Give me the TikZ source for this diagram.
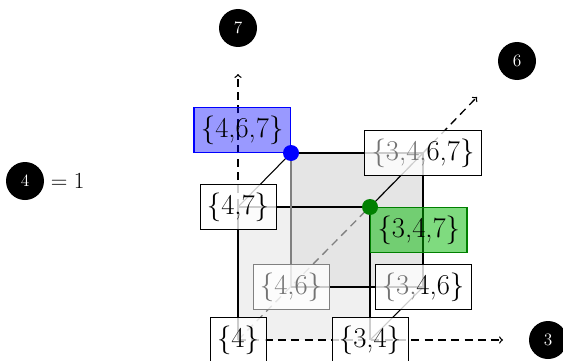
\documentclass[tikz,border=0pt]{standalone}
\usetikzlibrary{positioning}
\begin{document}
\begin{tikzpicture}[x=0.75pt,y=0.75pt,yscale=-1,xscale=1,
  vbox/.style={draw,fill=white,fill opacity=0.8,text opacity=1,inner xsep=5.2pt,inner ysep=6pt,font=\fontsize{21.5}{24}\selectfont},
  axis/.style={dash pattern=on 6pt off 4pt,line width=1pt},
  edge/.style={line width=0.8pt},
  num/.style={circle,fill=black,text=white,minimum size=28.5pt,inner sep=0pt,font=\fontsize{13}{15}\selectfont},
  hid/.style={black!55}]
\useasboundingbox (0,0) rectangle (563,360);
% cube corners
\coordinate (v4) at (238,340);
\coordinate (v34) at (370,340);
\coordinate (v47) at (238,207);
\coordinate (v347) at (370,207);
\coordinate (v46) at (291,287);
\coordinate (v346) at (423,287);
\coordinate (v467) at (291,153);
\coordinate (v3467) at (423,153);
\coordinate (ax3) at (503,340);
\coordinate (ax7) at (238,74);
\coordinate (ax6) at (477,97);
% faces
\fill [gray!12] (v4) rectangle (v347);
\fill [gray!20] (v46) rectangle (v3467);
% axes
\draw [axis,->] (v4) -- (ax3);
\draw [axis,->] (v4) -- (ax7);
\draw [axis,gray] (v4) -- (v3467);
\draw [axis,->] (v3467) -- (ax6);
% edges
\draw [edge] (v4) -- (v47) -- (v347) -- (v34);
\draw [edge,black!50] (v46) -- (v467);
\draw [edge] (v467) -- (v3467) -- (v346) -- (v46);
\draw [edge] (v47) -- (v467);
\draw [edge] (v347) -- (v3467);
\draw [edge] (v34) -- (v346);
% vertex labels
\node [vbox] (n4) at (v4) {\{4\}};
\node [vbox] (n34) at (v34) {\{3,4\}};
\node [vbox] (n47) at (v47) {\{4,7\}};
\node [vbox,draw=black!50,text=black!55] (n46) at (v46) {\{4,6\}};
\node [vbox] (n346) at (v346) {\textcolor{black!55}{\{3,}4,6\}};
\node [vbox] (n3467) at (v3467) {\textcolor{black!55}{\{3,4,}6,7\}};
\node [vbox,draw=blue,line width=1pt,fill=blue,fill opacity=0.4,anchor=south east] (n467) at (v467) {\{4,6,7\}};
\node [vbox,draw=green!50!black,line width=1pt,fill=green!72!black,fill opacity=0.5,anchor=north west] (n347) at (v347) {\{3,4,7\}};
\fill [blue] (v467) circle [radius=8];
\fill [green!50!black] (v347) circle [radius=8];
% axis numbers
\node [num] (lbl7) at (238,28) {7};
\node [num] (lbl6) at (517,61) {6};
\node [num] (lbl3) at (548,340) {3};
\node [num] (lbl4) at (25,181) {4};
\node [right=-2pt of lbl4,inner sep=2pt,font=\fontsize{18.5}{20}\selectfont] (eq) {${}=1$};
\end{tikzpicture}
\end{document}
